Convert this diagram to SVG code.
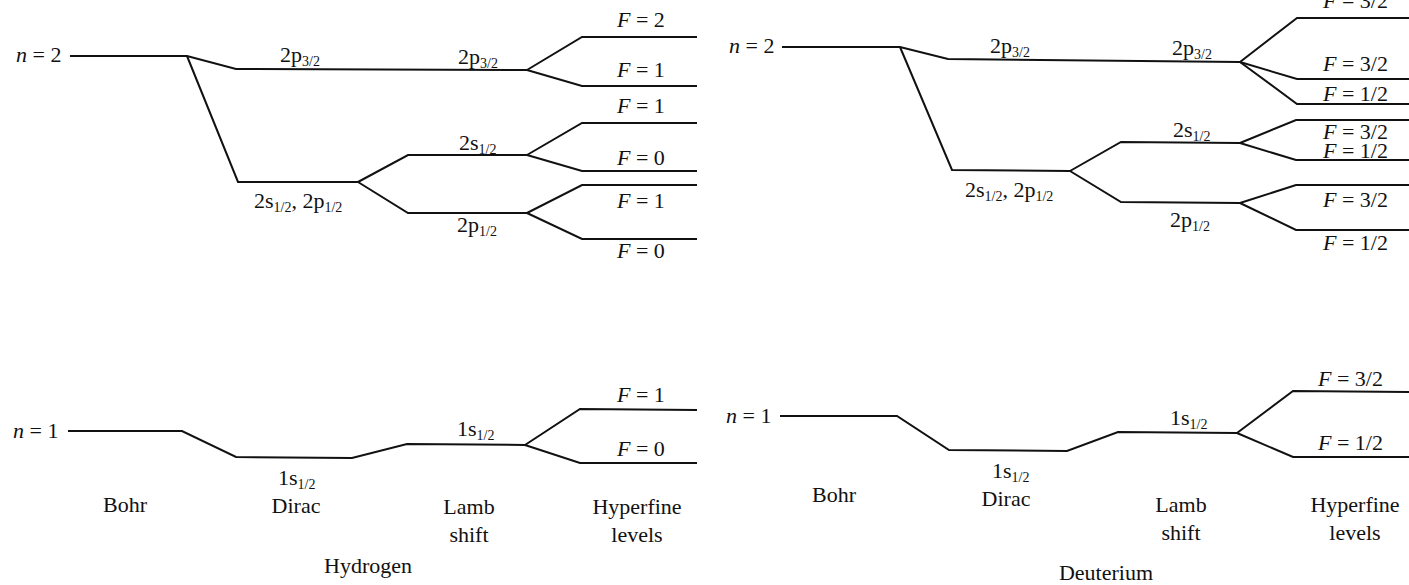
<svg xmlns="http://www.w3.org/2000/svg" width="1409" height="585" viewBox="0 0 1409 585">
<style>
.t{font-family:"Liberation Serif","Times New Roman",serif;font-size:22px;fill:#111}
.i{font-style:italic}
.s{font-size:14px}
.m{text-anchor:middle}
.l{fill:none;stroke:#111;stroke-width:2;stroke-linejoin:miter}
</style>
<rect width="1409" height="585" fill="#fff"/>
<g id="connectors">
<path class="l" d="M70 56 L187 56 L236 69 L527 70"/>
<path class="l" d="M187 56 L238 182 L358 182"/>
<path class="l" d="M358 182 L408 155 L527 155"/>
<path class="l" d="M358 182 L408 213 L527 213"/>
<path class="l" d="M527 70 L582 37 L697 37"/>
<path class="l" d="M527 70 L582 86 L697 86"/>
<path class="l" d="M527 155 L582 123 L697 123"/>
<path class="l" d="M527 155 L582 171 L697 171"/>
<path class="l" d="M527 213 L582 185 L697 185"/>
<path class="l" d="M527 213 L582 239 L697 239"/>
<path class="l" d="M68 431 L182 431 L236 457 L352 458 L407 444 L525 445"/>
<path class="l" d="M525 445 L580 409 L697 410"/>
<path class="l" d="M525 445 L580 463 L697 463"/>
<path class="l" d="M782 47 L900 47 L948 59 L1240 62"/>
<path class="l" d="M900 47 L952 170 L1070 171"/>
<path class="l" d="M1070 171 L1121 142 L1240 143"/>
<path class="l" d="M1070 171 L1121 202 L1240 203"/>
<path class="l" d="M1240 62 L1297 18 L1409 18"/>
<path class="l" d="M1240 62 L1297 79 L1409 79"/>
<path class="l" d="M1240 62 L1297 104 L1409 104"/>
<path class="l" d="M1240 143 L1296 120 L1409 120"/>
<path class="l" d="M1240 143 L1296 160 L1409 160"/>
<path class="l" d="M1240 203 L1296 185 L1409 185"/>
<path class="l" d="M1240 203 L1296 230 L1409 230"/>
<path class="l" d="M780 416 L897 416 L949 450 L1067 451 L1118 432 L1237 433"/>
<path class="l" d="M1237 433 L1293 391 L1409 392"/>
<path class="l" d="M1237 433 L1293 457 L1409 457"/>
</g>
<g id="hydrogen">
<g id="h-n2"><text class="t" x="16" y="62"><tspan class="i">n</tspan> = 2</text></g>
<g id="h-2p32-dirac"><text class="t" x="280" y="62">2p<tspan class="s" dy="4">3/2</tspan></text></g>
<g id="h-2s2p-dirac"><text class="t" x="254" y="208">2s<tspan class="s" dy="4">1/2</tspan><tspan dy="-4">, 2p</tspan><tspan class="s" dy="4">1/2</tspan></text></g>
<g id="h-2p32-lamb"><text class="t" x="458" y="64">2p<tspan class="s" dy="4">3/2</tspan></text></g>
<g id="h-2s12-lamb"><text class="t" x="459" y="150">2s<tspan class="s" dy="4">1/2</tspan></text></g>
<g id="h-2p12-lamb"><text class="t" x="457" y="232">2p<tspan class="s" dy="4">1/2</tspan></text></g>
<g id="h-f1"><text class="t" x="617" y="27"><tspan class="i">F</tspan> = 2</text></g>
<g id="h-f2"><text class="t" x="617" y="77"><tspan class="i">F</tspan> = 1</text></g>
<g id="h-f3"><text class="t" x="617" y="113"><tspan class="i">F</tspan> = 1</text></g>
<g id="h-f4"><text class="t" x="617" y="165"><tspan class="i">F</tspan> = 0</text></g>
<g id="h-f5"><text class="t" x="617" y="208"><tspan class="i">F</tspan> = 1</text></g>
<g id="h-f6"><text class="t" x="617" y="258"><tspan class="i">F</tspan> = 0</text></g>
<g id="h-n1"><text class="t" x="13" y="438"><tspan class="i">n</tspan> = 1</text></g>
<g id="h-1s-dirac"><text class="t" x="278" y="485">1s<tspan class="s" dy="4">1/2</tspan></text></g>
<g id="h-1s-lamb"><text class="t" x="457" y="436">1s<tspan class="s" dy="4">1/2</tspan></text></g>
<g id="h-f7"><text class="t" x="617" y="402"><tspan class="i">F</tspan> = 1</text></g>
<g id="h-f8"><text class="t" x="617" y="456"><tspan class="i">F</tspan> = 0</text></g>
<g id="h-bohr"><text class="t m" x="125" y="512">Bohr</text></g>
<g id="h-dirac"><text class="t m" x="296" y="513">Dirac</text></g>
<g id="h-lamb"><text class="t m" x="469" y="514">Lamb</text><text class="t m" x="469" y="542">shift</text></g>
<g id="h-hyper"><text class="t m" x="637" y="514">Hyperfine</text><text class="t m" x="637" y="542">levels</text></g>
<g id="h-title"><text class="t m" x="368" y="573">Hydrogen</text></g>
</g>
<g id="deuterium">
<g id="d-n2"><text class="t" x="729" y="53"><tspan class="i">n</tspan> = 2</text></g>
<g id="d-2p32-dirac"><text class="t" x="990" y="53">2p<tspan class="s" dy="4">3/2</tspan></text></g>
<g id="d-2s2p-dirac"><text class="t" x="965" y="197">2s<tspan class="s" dy="4">1/2</tspan><tspan dy="-4">, 2p</tspan><tspan class="s" dy="4">1/2</tspan></text></g>
<g id="d-2p32-lamb"><text class="t" x="1172" y="55">2p<tspan class="s" dy="4">3/2</tspan></text></g>
<g id="d-2s12-lamb"><text class="t" x="1173" y="137">2s<tspan class="s" dy="4">1/2</tspan></text></g>
<g id="d-2p12-lamb"><text class="t" x="1170" y="227">2p<tspan class="s" dy="4">1/2</tspan></text></g>
<g id="d-f1"><text class="t" x="1323" y="8"><tspan class="i">F</tspan> = 3/2</text></g>
<g id="d-f2"><text class="t" x="1323" y="71"><tspan class="i">F</tspan> = 3/2</text></g>
<g id="d-f3"><text class="t" x="1323" y="101"><tspan class="i">F</tspan> = 1/2</text></g>
<g id="d-f4"><text class="t" x="1323" y="139"><tspan class="i">F</tspan> = 3/2</text></g>
<g id="d-f5"><text class="t" x="1323" y="158"><tspan class="i">F</tspan> = 1/2</text></g>
<g id="d-f6"><text class="t" x="1323" y="207"><tspan class="i">F</tspan> = 3/2</text></g>
<g id="d-f7"><text class="t" x="1323" y="250"><tspan class="i">F</tspan> = 1/2</text></g>
<g id="d-n1"><text class="t" x="726" y="423"><tspan class="i">n</tspan> = 1</text></g>
<g id="d-1s-dirac"><text class="t" x="992" y="478">1s<tspan class="s" dy="4">1/2</tspan></text></g>
<g id="d-1s-lamb"><text class="t" x="1170" y="425">1s<tspan class="s" dy="4">1/2</tspan></text></g>
<g id="d-f8"><text class="t" x="1318" y="386"><tspan class="i">F</tspan> = 3/2</text></g>
<g id="d-f9"><text class="t" x="1318" y="450"><tspan class="i">F</tspan> = 1/2</text></g>
<g id="d-bohr"><text class="t m" x="834" y="502">Bohr</text></g>
<g id="d-dirac"><text class="t m" x="1006" y="506">Dirac</text></g>
<g id="d-lamb"><text class="t m" x="1181" y="512">Lamb</text><text class="t m" x="1181" y="540">shift</text></g>
<g id="d-hyper"><text class="t m" x="1355" y="512">Hyperfine</text><text class="t m" x="1355" y="540">levels</text></g>
<g id="d-title"><text class="t m" x="1106" y="580">Deuterium</text></g>
</g>
</svg>
